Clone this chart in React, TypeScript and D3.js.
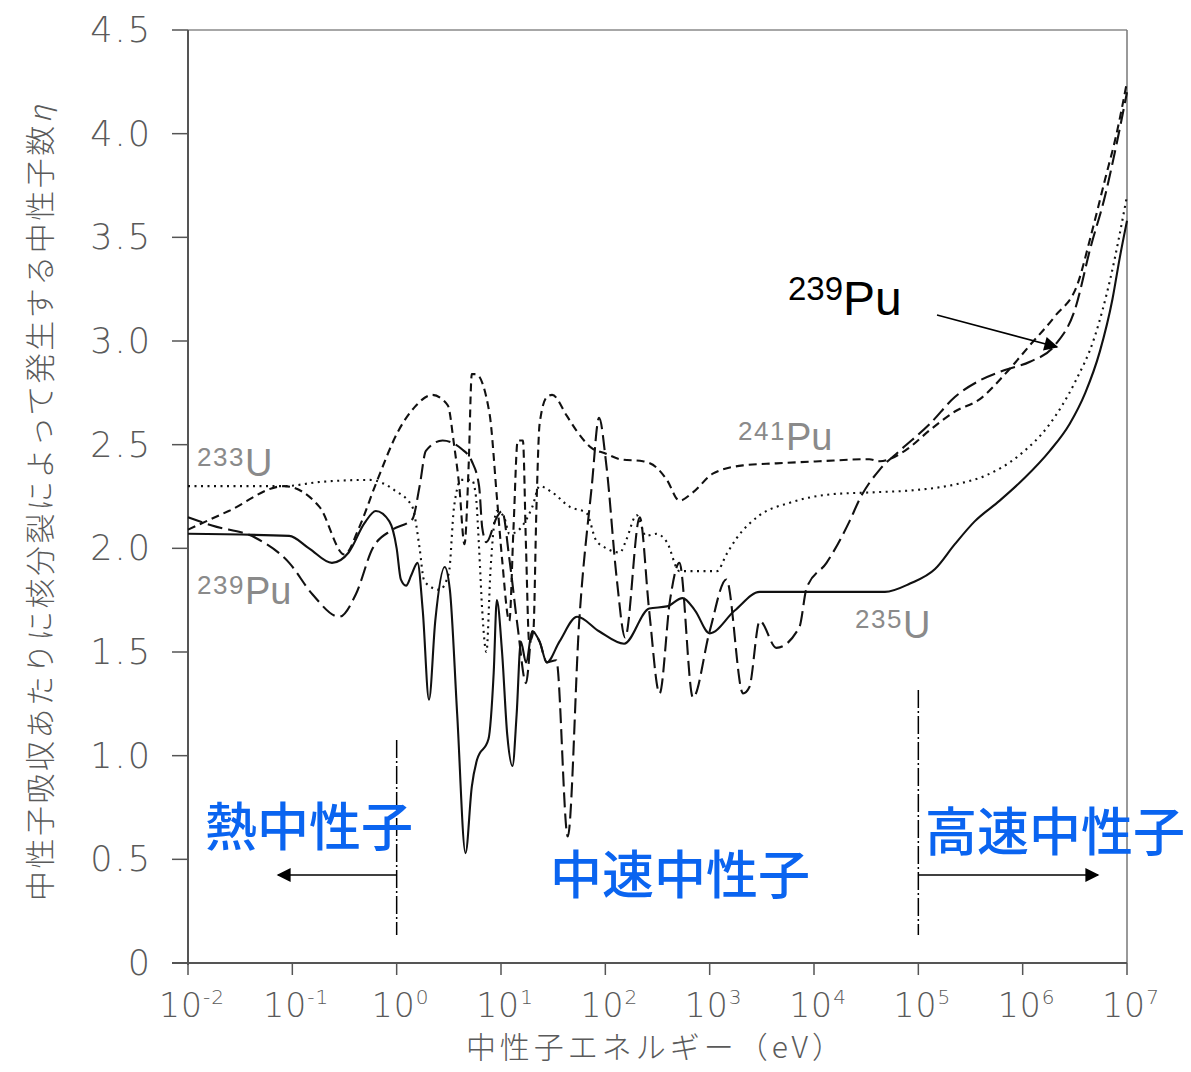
import React from 'react';
import * as d3 from 'd3';

// [log10(E/eV), eta]
const U233: [number, number][] = [
  [-2, 2.3], [-1.08, 2.3], [-0.74, 2.32], [-0.26, 2.33], [-0.02, 2.28], [0.15, 2.2], [0.22, 2.0], [0.26, 1.85],
  [0.31, 1.82], [0.41, 1.8], [0.5, 1.88], [0.55, 2.2], [0.62, 2.33], [0.72, 2.33], [0.76, 2.25], [0.79, 2.0],
  [0.82, 1.7], [0.86, 1.5], [0.9, 1.9], [0.96, 2.18], [1.03, 2.15], [1.08, 2.07], [1.15, 2.08], [1.22, 2.12],
  [1.3, 2.2], [1.37, 2.3], [1.49, 2.27], [1.66, 2.2], [1.82, 2.17], [1.91, 2.04], [2.01, 2.0], [2.14, 1.98],
  [2.2, 2.04], [2.3, 2.16], [2.39, 2.06], [2.49, 2.07], [2.59, 2.03], [2.71, 1.89], [3.07, 1.89], [3.16, 1.97],
  [3.26, 2.05], [3.48, 2.16], [3.77, 2.22], [4.15, 2.26], [4.56, 2.27], [4.95, 2.28], [5.37, 2.31], [5.64, 2.35],
  [5.97, 2.45], [6.26, 2.6], [6.5, 2.8], [6.69, 3.02], [6.84, 3.3], [7.0, 3.7],
];

const U235: [number, number][] = [
  [-2, 2.07], [-1.03, 2.06], [-0.84, 2.0], [-0.62, 1.93], [-0.46, 1.98], [-0.31, 2.12], [-0.2, 2.18], [-0.07, 2.13],
  [0.0, 2.0], [0.04, 1.85], [0.09, 1.82], [0.14, 1.87], [0.2, 1.93], [0.25, 1.7], [0.31, 1.27], [0.37, 1.65],
  [0.46, 1.91], [0.51, 1.8], [0.58, 1.2], [0.66, 0.53], [0.72, 0.85], [0.77, 0.98], [0.88, 1.08], [0.93, 1.4],
  [0.96, 1.75], [1.01, 1.5], [1.06, 1.1], [1.11, 0.95], [1.15, 1.2], [1.19, 1.55], [1.24, 1.45], [1.3, 1.6],
  [1.37, 1.55], [1.44, 1.45], [1.56, 1.55], [1.73, 1.67], [1.94, 1.6], [2.18, 1.54], [2.42, 1.71], [2.59, 1.72],
  [2.74, 1.76], [2.86, 1.7], [3.0, 1.59], [3.24, 1.7], [3.48, 1.79], [4.68, 1.79], [4.92, 1.83], [5.16, 1.9],
  [5.35, 2.02], [5.54, 2.13], [5.78, 2.23], [6.02, 2.34], [6.26, 2.47], [6.45, 2.6], [6.6, 2.75], [6.74, 2.95],
  [6.86, 3.2], [6.93, 3.4], [7.0, 3.58],
];

const PU239: [number, number][] = [
  [-2, 2.15], [-1.77, 2.11], [-1.35, 2.05], [-1.03, 1.93], [-0.81, 1.78], [-0.55, 1.67], [-0.39, 1.78], [-0.23, 2.0],
  [-0.04, 2.09], [0.15, 2.14], [0.22, 2.3], [0.28, 2.47], [0.44, 2.52], [0.62, 2.48], [0.72, 2.42], [0.79, 2.3],
  [0.82, 2.1], [0.86, 2.03], [0.96, 2.15], [1.01, 2.18], [1.08, 1.95], [1.16, 1.62], [1.24, 1.35], [1.3, 1.6],
  [1.37, 1.55], [1.44, 1.45], [1.53, 1.46], [1.64, 0.61], [1.75, 1.65], [1.87, 2.3], [1.94, 2.63], [2.01, 2.4],
  [2.11, 1.85], [2.19, 1.57], [2.33, 2.15], [2.42, 1.7], [2.52, 1.3], [2.62, 1.75], [2.71, 1.93], [2.84, 1.28],
  [3.0, 1.6], [3.16, 1.85], [3.32, 1.3], [3.38, 1.33], [3.48, 1.65], [3.64, 1.52], [3.86, 1.62], [3.93, 1.81],
  [4.12, 1.93], [4.34, 2.13], [4.44, 2.24], [4.63, 2.38], [4.82, 2.47], [5.11, 2.6], [5.35, 2.73], [5.59, 2.81],
  [5.83, 2.86], [6.07, 2.9], [6.31, 2.98], [6.5, 3.15], [6.65, 3.45], [6.79, 3.7], [6.9, 3.95], [7.0, 4.2],
];

const PU241: [number, number][] = [
  [-2, 2.09], [-1.61, 2.18], [-1.08, 2.3], [-0.74, 2.2], [-0.5, 1.97], [-0.36, 2.1], [-0.2, 2.31], [0.02, 2.57],
  [0.17, 2.68], [0.34, 2.74], [0.49, 2.69], [0.55, 2.5], [0.6, 2.3], [0.65, 2.02], [0.69, 2.4], [0.72, 2.84],
  [0.76, 2.84], [0.89, 2.65], [0.96, 2.25], [1.01, 1.95], [1.08, 1.65], [1.12, 2.1], [1.16, 2.52], [1.21, 2.52],
  [1.24, 2.0], [1.27, 1.55], [1.31, 1.6], [1.34, 2.2], [1.37, 2.6], [1.44, 2.73], [1.49, 2.74], [1.63, 2.64],
  [1.72, 2.57], [1.88, 2.48], [1.99, 2.46], [2.14, 2.43], [2.36, 2.42], [2.49, 2.39], [2.59, 2.33], [2.71, 2.23],
  [2.84, 2.27], [3.03, 2.36], [3.32, 2.4], [3.64, 2.41], [4.05, 2.42], [4.53, 2.43], [4.63, 2.42], [4.87, 2.47],
  [5.11, 2.57], [5.35, 2.66], [5.59, 2.72], [5.83, 2.84], [6.07, 2.98], [6.31, 3.12], [6.53, 3.28], [6.65, 3.5],
  [6.79, 3.78], [6.9, 4.0], [7.0, 4.25],
];

const yTicks = [0, 0.5, 1.0, 1.5, 2.0, 2.5, 3.0, 3.5, 4.0, 4.5];
const xExponents = [-2, -1, 0, 1, 2, 3, 4, 5, 6, 7];

const series = [
  { data: U233, dash: '2,4.5' },
  { data: U235, dash: null },
  { data: PU239, dash: '15,6' },
  { data: PU241, dash: '8,5' },
];

const W = 1191;
const H = 1072;
const left = 188;
const right = 1127;
const top = 30;
const bottom = 963;

const gray = '#5a5a5a';
const blue = '#0a64f0';
const numFont = '"DejaVu Sans", sans-serif';
const labFont = '"Liberation Sans", Arial, sans-serif';
const jpFont = '"Noto Sans CJK JP", sans-serif';

export default function App() {
  const x = d3.scaleLog().domain([1e-2, 1e7]).range([left, right]);
  const y = d3.scaleLinear().domain([0, 4.5]).range([bottom, top]);

  const line = d3
    .line<[number, number]>()
    .x(d => x(Math.pow(10, d[0])))
    .y(d => y(d[1]))
    .curve(d3.curveMonotoneX);

  const x1 = x(1);
  const x5 = x(1e5);

  return (
    <svg width={W} height={H} style={{ position: 'absolute', left: 0, top: 0, background: '#fff' }}>
      <defs>
        <marker id="bighead" viewBox="0 0 10 10" refX="9" refY="5" markerWidth="18" markerHeight="14"
          markerUnits="userSpaceOnUse" orient="auto">
          <path d="M0,0 L10,5 L0,10 z" fill="#000" />
        </marker>
      </defs>

      {/* frame */}
      <line x1={left} x2={right} y1={top} y2={top} stroke="#8a8a8a" strokeWidth={1.5} />
      <line x1={right} x2={right} y1={top} y2={bottom} stroke="#777" strokeWidth={1.5} />
      <line x1={left} x2={left} y1={top} y2={bottom + 2} stroke="#555" strokeWidth={2} />
      <line x1={172} x2={right} y1={bottom} y2={bottom} stroke="#555" strokeWidth={2} />

      {/* y axis */}
      {yTicks.map(t => (
        <g key={t}>
          <line x1={172} x2={left} y1={y(t)} y2={y(t)} stroke="#555" strokeWidth={1.5} />
          <text x={152} y={y(t)} textAnchor="end" dominantBaseline="central" fontFamily={numFont}
            fontWeight={200} fontSize={35} letterSpacing={2} fill={gray}>
            {t === 0 ? '0' : t.toFixed(1)}
          </text>
        </g>
      ))}

      {/* x axis */}
      {xExponents.map(e => (
        <g key={e}>
          <line x1={x(Math.pow(10, e))} x2={x(Math.pow(10, e))} y1={bottom} y2={bottom + 12}
            stroke="#555" strokeWidth={1.5} />
          <text x={x(Math.pow(10, e)) + 4} y={1017} textAnchor="middle" fontFamily={numFont}
            fontWeight={200} fontSize={33} fill={gray} letterSpacing={1}>
            10
            <tspan dy={-13} fontSize={20}>{e}</tspan>
          </text>
        </g>
      ))}

      <text x={656} y={1058} textAnchor="middle" fontFamily={jpFont} fontWeight={300} fontSize={30}
        letterSpacing={4} fill={gray}>
        中性子エネルギー（eV）
      </text>
      <text transform="translate(38,502) rotate(-90)" textAnchor="middle" dominantBaseline="central"
        fontFamily={jpFont} fontWeight={300} fontSize={30} letterSpacing={2.5} fill={gray}>
        中性子吸収あたりに核分裂によって発生する中性子数<tspan fontStyle="italic">η</tspan>
      </text>

      {/* curves */}
      {series.map((s, i) => (
        <path key={i} d={line(s.data) || ''} fill="none" stroke="#111" strokeWidth={2.1}
          strokeDasharray={s.dash || undefined} strokeLinejoin="round" />
      ))}

      {/* isotope labels */}
      <g fontFamily={labFont} fill="#8a8a8a">
        <text x={197} y={476}><tspan fontSize={26} dy={-10} letterSpacing={1.5}>233</tspan><tspan fontSize={38} dy={10}>U</tspan></text>
        <text x={197} y={604}><tspan fontSize={26} dy={-10} letterSpacing={1.5}>239</tspan><tspan fontSize={38} dy={10}>Pu</tspan></text>
        <text x={738} y={450}><tspan fontSize={26} dy={-10} letterSpacing={1.5}>241</tspan><tspan fontSize={38} dy={10}>Pu</tspan></text>
        <text x={855} y={638}><tspan fontSize={26} dy={-10} letterSpacing={1.5}>235</tspan><tspan fontSize={38} dy={10}>U</tspan></text>
      </g>

      <text x={788} y={315} fontFamily={labFont} fill="#000">
        <tspan fontSize={33} dy={-15}>239</tspan><tspan fontSize={48} dy={15}>Pu</tspan>
      </text>
      <line x1={937} y1={315} x2={1057} y2={347} stroke="#000" strokeWidth={1.6} markerEnd="url(#bighead)" />

      {/* energy regions */}
      <line x1={x1} x2={x1} y1={740} y2={935} stroke="#000" strokeWidth={1.5} strokeDasharray="18,3,2,3" />
      <line x1={x5} x2={x5} y1={690} y2={935} stroke="#000" strokeWidth={1.5} strokeDasharray="18,3,2,3" />
      <line x1={x1} x2={278} y1={875} y2={875} stroke="#000" strokeWidth={1.6} markerEnd="url(#bighead)" />
      <line x1={x5} x2={1098} y1={875} y2={875} stroke="#000" strokeWidth={1.6} markerEnd="url(#bighead)" />

      <g fontFamily={jpFont} fontWeight={500} fontSize={52} fill={blue}>
        <text x={205} y={846}>熱中性子</text>
        <text x={550} y={894}>中速中性子</text>
        <text x={925} y={851}>高速中性子</text>
      </g>
    </svg>
  );
}
